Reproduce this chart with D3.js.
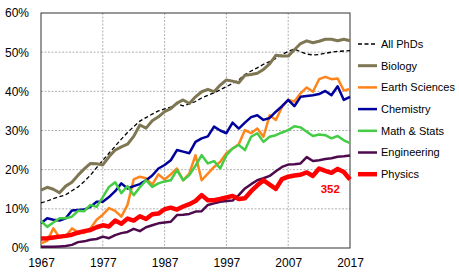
<!DOCTYPE html>
<html lang="en">
<head>
<meta charset="UTF-8">
<title>Share of PhDs awarded to women</title>
<script src="https://d3js.org/d3.v7.min.js"></script>
<style>
    body { margin: 0; background: #fff; }
    text { font-family: Arial, "Liberation Sans", sans-serif; }
    .axis text { font-size: 12px; fill: #000; }
    .legend text { font-size: 11px; fill: #000; }
</style>
</head>
<body>
<div id="chart"></div>
<script>
// years on the x axis
const years = d3.range(1967, 2018);
const xTicks = [1967, 1977, 1987, 1997, 2007, 2017];
const yTicks = [0, 10, 20, 30, 40, 50, 60];

// percent of PhDs earned by women, 1967-2017
const allPhDs = [11.5, 12.0, 12.6, 13.1, 13.6, 14.6, 15.6, 17.0, 18.6, 20.5,
    22.4, 24.2, 26.0, 27.8, 29.5, 31.0, 32.4, 33.3, 34.2, 35.0,
    35.5, 36.0, 36.8, 36.3, 36.8, 37.4, 38.3, 39.0, 39.6, 40.4,
    41.2, 42.0, 42.9, 44.3, 45.2, 46.0, 46.9, 47.6, 48.4, 49.4,
    50.2, 50.8, 50.1, 49.5, 49.3, 49.4, 49.7, 50.0, 50.2, 50.3,
    50.4];
const biology = [14.8, 15.5, 15.0, 14.1, 15.8, 16.8, 18.6, 20.2, 21.6, 21.5,
    21.2, 23.3, 25.0, 25.8, 26.5, 28.5, 31.4, 30.6, 32.5, 33.5,
    34.8, 35.6, 37.0, 37.8, 36.9, 38.6, 39.9, 40.5, 39.9, 41.6,
    42.9, 42.6, 42.2, 44.1, 44.3, 44.6, 45.6, 47.0, 49.2, 49.0,
    49.0, 50.6, 52.2, 52.9, 52.4, 52.8, 53.3, 53.3, 52.9, 53.3,
    52.9];
const earthSciences = [1.2, 1.8, 5.0, 2.7, 3.0, 5.0, 4.0, 3.8, 5.0, 7.2,
    8.5, 10.2, 9.5, 8.0, 11.0, 17.5, 18.2, 17.8, 16.2, 18.8,
    17.5, 18.8, 20.3, 17.3, 19.0, 23.7, 17.3, 19.0, 20.7, 22.0,
    24.2, 25.4, 26.5, 30.1, 29.3, 30.5, 28.4, 33.9, 32.7, 36.0,
    37.8, 37.4, 39.5, 41.0, 39.9, 43.1, 43.7, 43.1, 43.3, 40.2,
    40.6];
const chemistry = [6.3, 7.6, 7.2, 7.0, 7.6, 9.6, 9.7, 9.8, 10.5, 11.8,
    11.8, 13.0, 14.5, 16.5, 15.2, 15.8, 16.3, 17.3, 18.5, 20.3,
    21.2, 22.4, 25.0, 24.6, 24.2, 27.1, 28.0, 28.5, 31.0, 30.0,
    29.3, 32.0, 30.5, 32.0, 33.4, 33.9, 32.7, 33.2, 34.8, 36.2,
    37.8, 36.2, 38.6, 38.8, 39.0, 39.3, 40.1, 39.0, 41.3, 37.8,
    38.6];
const mathStats = [6.9, 5.4, 6.5, 7.6, 7.6, 8.0, 9.5, 9.4, 11.0, 10.5,
    13.0, 15.6, 16.8, 14.0, 15.8, 13.5, 15.5, 17.3, 15.6, 16.5,
    17.0, 17.3, 19.9, 17.3, 18.6, 21.0, 23.7, 21.6, 22.2, 20.3,
    23.7, 25.4, 26.3, 25.0, 28.4, 29.3, 27.1, 28.4, 28.8, 29.5,
    30.1, 31.1, 30.8, 29.7, 28.6, 29.0, 28.8, 28.0, 28.6, 27.5,
    26.8];
const engineering = [0.3, 0.3, 0.3, 0.4, 0.5, 0.8, 1.5, 1.7, 2.1, 2.3,
    2.9, 2.5, 3.3, 3.8, 4.1, 4.9, 4.3, 5.3, 5.8, 6.3,
    6.5, 6.7, 8.4, 8.5, 8.7, 9.3, 9.4, 11.0, 11.4, 11.8,
    12.0, 12.1, 13.5, 15.2, 16.3, 17.3, 17.8, 18.4, 19.6, 20.7,
    21.3, 21.4, 21.6, 23.2, 22.2, 22.4, 22.7, 22.9, 23.3, 23.4,
    23.6];
const physics = [2.4, 2.5, 2.7, 2.9, 3.1, 3.4, 3.9, 4.3, 4.6, 5.3,
    5.8, 5.5, 7.0, 6.2, 7.5, 7.0, 8.1, 7.4, 8.6, 8.8,
    9.9, 10.3, 9.8, 10.6, 11.2, 12.0, 13.5, 12.2, 12.2, 12.5,
    12.9, 13.3, 12.5, 12.7, 14.5, 16.0, 17.3, 16.2, 15.1, 17.6,
    18.2, 18.5, 18.7, 19.3, 18.4, 20.3, 19.7, 19.2, 20.2, 19.4,
    17.5];
const physicsCount = "352";

const series = [
    { name: "All PhDs", values: allPhDs, color: "#000", width: 1.3, dash: "4,2.5" },
    { name: "Biology", values: biology, color: "#7f7753", width: 3 },
    { name: "Earth Sciences", values: earthSciences, color: "#ff8419", width: 2.5 },
    { name: "Chemistry", values: chemistry, color: "#00009c", width: 2.5 },
    { name: "Math & Stats", values: mathStats, color: "#45cc45", width: 2.5 },
    { name: "Engineering", values: engineering, color: "#4d0a4d", width: 2.5 },
    { name: "Physics", values: physics, color: "#ff0000", width: 4.5 }
];

const width = 459, height = 272;
const plot = { left: 41, top: 13, right: 350, bottom: 248 };

const svg = d3.select("#chart").append("svg")
    .attr("width", width)
    .attr("height", height);

const x = d3.scaleLinear().domain([1967, 2017]).range([plot.left, plot.right]);
const y = d3.scaleLinear().domain([0, 60]).range([plot.bottom, plot.top]);

// grid
svg.append("g")
    .selectAll("line.h")
    .data(yTicks.slice(1, -1))
    .join("line")
    .attr("x1", plot.left).attr("x2", plot.right)
    .attr("y1", d => y(d)).attr("y2", d => y(d))
    .attr("stroke", "#b0b0b0").attr("stroke-width", 1)
    .attr("stroke-dasharray", "2,1.5");

svg.append("g")
    .selectAll("line.v")
    .data(xTicks.slice(1, -1))
    .join("line")
    .attr("x1", d => x(d)).attr("x2", d => x(d))
    .attr("y1", plot.top).attr("y2", plot.bottom)
    .attr("stroke", "#b0b0b0").attr("stroke-width", 1)
    .attr("stroke-dasharray", "2,1.5");

// frame
svg.append("rect")
    .attr("x", plot.left).attr("y", plot.top)
    .attr("width", plot.right - plot.left)
    .attr("height", plot.bottom - plot.top)
    .attr("fill", "none").attr("stroke", "#333").attr("stroke-width", 1);

// axes
const yAxis = svg.append("g")
    .attr("class", "axis")
    .attr("transform", `translate(${plot.left},0)`)
    .call(d3.axisLeft(y).tickValues(yTicks).tickFormat(d => d + "%").tickSize(0).tickPadding(12));
yAxis.select(".domain").remove();

const xAxis = svg.append("g")
    .attr("class", "axis")
    .attr("transform", `translate(0,${plot.bottom})`)
    .call(d3.axisBottom(x).tickValues(xTicks).tickFormat(d3.format("d")).tickSize(0).tickPadding(10));
xAxis.select(".domain").remove();

// lines
const line = d3.line()
    .x((d, i) => x(years[i]))
    .y(d => y(d));

svg.append("g")
    .selectAll("path")
    .data(series)
    .join("path")
    .attr("d", d => line(d.values))
    .attr("fill", "none")
    .attr("stroke", d => d.color)
    .attr("stroke-width", d => d.width)
    .attr("stroke-dasharray", d => d.dash || null)
    .attr("stroke-linejoin", "round");

// count label for physics, just under the last few points
svg.append("text")
    .attr("x", x(2013.8))
    .attr("y", y(physics[physics.length - 2]) + 21)
    .attr("text-anchor", "middle")
    .attr("fill", "#ff0000")
    .attr("font-size", "11.5px")
    .attr("font-weight", "bold")
    .text(physicsCount);

// legend
const legend = svg.append("g")
    .attr("class", "legend")
    .attr("transform", "translate(358,44)");

const item = legend.selectAll("g")
    .data(series)
    .join("g")
    .attr("transform", (d, i) => `translate(0,${i * 21.7})`);

item.append("line")
    .attr("x1", 0).attr("x2", 19)
    .attr("stroke", d => d.color)
    .attr("stroke-width", d => d.width)
    .attr("stroke-dasharray", d => d.dash || null);

item.append("text")
    .attr("x", 23)
    .attr("dy", "0.35em")
    .text(d => d.name);
</script>
</body>
</html>
